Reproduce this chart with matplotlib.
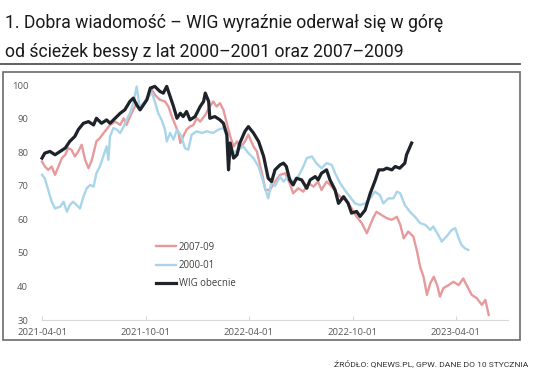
import matplotlib
matplotlib.use("Agg")
import matplotlib.pyplot as plt
from matplotlib.lines import Line2D
from matplotlib.patches import Rectangle
import pandas as pd

# dane (dni od 2021-04-01, wartosci)
start = pd.Timestamp("2021-04-01")

red_days = [0, 5, 11, 17, 23, 29, 35, 41, 46, 52, 58, 64, 70, 76, 82, 88, 96, 102, 111, 120,
            129, 138, 144, 149, 158, 167, 176, 185, 194, 199, 208, 217, 223, 229, 235, 241, 244, 249, 255, 261,
            267, 273, 279, 288, 296, 302, 308, 314, 320, 326, 332, 338, 344, 349, 358, 364, 373, 379, 388, 394,
            402, 411, 420, 429, 437, 443, 452, 461, 470, 479, 487, 493, 502, 511, 520, 529, 537, 546, 555, 564,
            573, 578, 584, 590, 599, 608, 617, 626, 632, 638, 646, 655, 661, 667, 673, 679, 685, 691, 697, 702,
            708, 717, 726, 735, 743, 749, 758, 767, 776, 782, 788]
red_vals = [77.3, 75.8, 74.8, 75.8, 73.3, 75.8, 78.3, 79.3, 81.3, 80.8, 78.8, 80.3, 82.3, 77.8, 75.3, 77.8, 83.3, 84.3, 86.3, 88.2,
            89.2, 88.2, 90.2, 88.2, 91.7, 94.7, 93.7, 96.2, 98.7, 97.2, 95.7, 95.2, 93.7, 90.7, 88.2, 85.8, 82.8, 84.8, 86.8, 87.7,
            88.2, 90.2, 89.2, 91.2, 93.7, 95.2, 93.7, 94.7, 92.7, 88.7, 84.8, 81.8, 83.3, 81.3, 83.3, 85.3, 81.8, 80.3, 73.8, 68.8,
            68.8, 71.3, 73.3, 73.8, 70.8, 67.8, 69.3, 68.3, 70.8, 69.8, 71.3, 68.8, 71.3, 69.8, 67.8, 66.3, 65.8, 63.3, 60.8, 58.9,
            55.9, 57.9, 60.4, 62.3, 61.3, 60.4, 59.9, 60.8, 58.4, 54.4, 56.4, 54.9, 50.9, 45.9, 42.9, 37.5, 41.0, 42.9, 40.4, 37.0,
            39.5, 40.4, 41.4, 40.4, 42.4, 40.4, 37.5, 36.5, 34.5, 36.0, 31.5]

blue_days = [0, 5, 11, 17, 23, 32, 38, 44, 49, 55, 61, 67, 73, 79, 85, 91, 96, 102, 108, 114,
             117, 120, 126, 132, 138, 144, 149, 155, 161, 167, 172, 179, 188, 194, 199, 205, 211, 217, 220, 226,
             232, 238, 246, 252, 258, 264, 273, 282, 291, 302, 311, 320, 326, 332, 338, 346, 355, 364, 373, 382,
             391, 399,
             405, 411, 420, 426, 434, 443, 452, 461, 467, 476, 484, 493, 502, 511, 517, 526, 534, 543, 552, 561,
             570, 576, 581, 587, 596, 602, 611, 620, 626, 632, 640, 649, 658, 667, 676, 685, 690, 699, 705, 714,
             723, 729, 735, 740, 746, 752]
blue_vals = [73.3, 72.3, 68.8, 65.3, 63.3, 63.8, 65.3, 62.3, 64.3, 65.3, 64.3, 63.3, 66.8, 69.3, 70.3, 69.8, 73.8, 75.8, 78.8, 81.8,
             77.8, 84.8, 87.3, 86.8, 85.8, 87.7, 89.7, 91.7, 94.7, 99.7, 93.7, 94.7, 96.7, 97.7, 95.2, 91.7, 89.7, 86.8, 83.3, 85.8,
             83.8, 86.8, 84.8, 81.3, 80.8, 85.3, 86.3, 85.8, 86.3, 85.8, 86.8, 87.3, 84.8, 81.8, 79.8, 80.8, 81.8, 79.8, 78.3, 75.8,
             70.8, 66.3,
             71.3, 70.0, 72.8, 71.3, 72.8, 71.3, 72.8, 75.8, 78.3, 78.8, 76.8, 75.3, 76.8, 76.3, 73.8, 70.8, 68.8, 66.8, 64.8, 64.3,
             64.8, 65.8, 66.8, 68.3, 67.3, 64.8, 66.3, 66.3, 68.3, 67.8, 64.3, 62.3, 60.8, 58.9, 58.4, 56.9, 57.9, 55.4, 53.4, 55.0,
             56.9, 57.4, 54.4, 52.4, 51.4, 50.9]

wig_days = [0, 5, 14, 23, 32, 41, 49, 58, 64, 73, 82, 91, 96, 105, 114, 120, 129, 138, 146, 155,
            161, 167, 173, 179, 185, 191, 199, 208, 214, 220, 226, 232, 238, 244, 249, 255, 261, 270, 279, 285,
            288, 294, 296, 305, 314, 320, 326, 329, 332, 338, 344, 349, 358, 364, 373, 382, 391, 399,
            405, 411, 420, 426, 431, 437, 443, 449, 458, 467, 473, 482, 487, 493, 502, 508, 517, 523, 532, 540,
            546, 555, 561, 570, 579, 588, 594, 602, 608, 617, 623, 631, 640, 643, 652]
wig_vals = [78.3, 79.8, 80.3, 79.3, 80.3, 81.3, 83.3, 84.8, 86.8, 88.7, 89.2, 88.2, 90.2, 88.7, 89.7, 88.7, 90.2, 91.7, 92.7, 95.2,
            96.2, 94.2, 92.7, 94.2, 95.7, 99.2, 99.7, 98.2, 97.7, 99.7, 96.7, 93.7, 90.2, 91.7, 90.7, 92.2, 89.7, 90.7, 93.7, 95.2,
            97.7, 95.2, 90.2, 90.7, 89.7, 88.7, 85.3, 74.8, 82.8, 78.3, 79.3, 82.8, 86.3, 87.7, 85.8, 83.3, 78.8, 72.3,
            71.3, 74.8, 76.3, 76.8, 75.8, 71.8, 70.3, 72.3, 71.8, 69.3, 71.8, 72.8, 71.8, 73.8, 74.8, 71.8, 68.8, 64.8, 66.8, 64.8,
            61.9, 62.4, 60.9, 62.8, 67.8, 71.8, 74.8, 74.8, 75.3, 74.8, 75.8, 75.3, 76.8, 79.3, 82.8]

x_ticks = ["2021-04-01", "2021-10-01", "2022-04-01", "2022-10-01", "2023-04-01"]
y_ticks = [30, 40, 50, 60, 70, 80, 90, 100]

title1 = "1. Dobra wiadomość – WIG wyraźnie oderwał się w górę"
title2 = "od ścieżek bessy z lat 2000–2001 oraz 2007–2009"
source = "ŹRÓDŁO: QNEWS.PL, GPW. DANE DO 10 STYCZNIA"

W, H = 536, 378
def fx(px):
    return px / W
def fy(py):
    return 1 - py / H

def to_dates(days):
    return start + pd.to_timedelta(days, unit="D")

fig = plt.figure(figsize=(W / 100, H / 100), dpi=100)
fig.patch.set_facecolor("white")

ax = fig.add_axes([fx(42), fy(320), fx(508) - fx(42), fy(72) - fy(320)])
ax.plot(to_dates(red_days), red_vals, color="#e8999b", lw=1.7, label="2007-09", clip_on=False)
ax.plot(to_dates(blue_days), blue_vals, color="#a8d5ea", lw=1.7, label="2000-01", clip_on=False)
ax.plot(to_dates(wig_days), wig_vals, color="#1e2329", lw=2.3, label="WIG obecnie", clip_on=False)

ax.set_xlim(start, start + pd.Timedelta(days=822))
ax.set_ylim(30, 104)
ax.set_xticks(pd.to_datetime(x_ticks))
ax.set_xticklabels(x_ticks)
ax.set_yticks(y_ticks)

for lab in ax.get_xticklabels() + ax.get_yticklabels():
    lab.set_fontfamily("Open Sans")
    lab.set_fontsize(6.8)
    lab.set_color("#595959")
ax.tick_params(axis="x", length=3, direction="in", color="#d9d9d9", pad=6)
ax.tick_params(axis="y", length=0, pad=10)
for s in ["top", "right", "left"]:
    ax.spines[s].set_visible(False)
ax.spines["bottom"].set_color("#d9d9d9")
ax.spines["bottom"].set_linewidth(0.8)
ax.set_facecolor("none")

leg = ax.legend(loc="upper left", bbox_to_anchor=(fx(151), fy(237)), bbox_transform=fig.transFigure,
                frameon=False, handlelength=2.1, handletextpad=0.3, labelspacing=0.75, borderpad=0,
                prop={"family": "Open Sans", "size": 6.9})
for t in leg.get_texts():
    t.set_color("#404040")

# ramka wykresu i linia pod tytulem
fig.patches.append(Rectangle((fx(3), fy(340)), fx(520) - fx(3), fy(72) - fy(340),
                             transform=fig.transFigure, fill=False, edgecolor="#6b6b6b", lw=1.2))
fig.lines.append(Line2D([0, fx(520)], [fy(64), fy(64)], transform=fig.transFigure, color="#555555", lw=1.3))

fig.text(fx(5), fy(28), title1, family="Roboto", fontsize=12.7, color="#1a1a1a", va="baseline", ha="left")
fig.text(fx(5), fy(57), title2, family="Roboto", fontsize=12.7, color="#1a1a1a", va="baseline", ha="left")
fig.text(fx(528), fy(366), source, family="Roboto", fontsize=6.1, color="#333333", va="baseline", ha="right")

fig.savefig("out.png", dpi=100, facecolor="white")
